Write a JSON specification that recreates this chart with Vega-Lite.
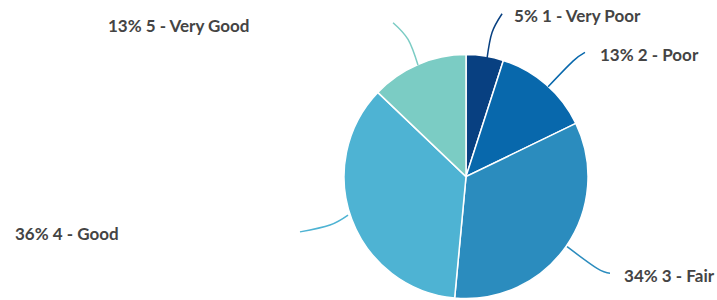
{
  "$schema": "https://vega.github.io/schema/vega-lite/v6.json",
  "width": 717,
  "height": 300,
  "padding": 0,
  "autosize": {"type": "fit", "contains": "padding"},
  "background": "white",
  "config": {"view": {"stroke": null}},
  "datasets": {
    "slices": [
      {"cat": "1 - Very Poor", "pct": 5},
      {"cat": "2 - Poor", "pct": 13},
      {"cat": "3 - Fair", "pct": 34},
      {"cat": "4 - Good", "pct": 36},
      {"cat": "5 - Very Good", "pct": 13}
    ],
    "leaders": [
      {"cat": "1 - Very Poor", "i": 0, "x": 0.174, "y": 0.992},
      {"cat": "1 - Very Poor", "i": 1, "x": 0.215, "y": 1.207},
      {"cat": "1 - Very Poor", "i": 2, "x": 0.298, "y": 1.364},
      {"cat": "2 - Poor", "i": 0, "x": 0.678, "y": 0.752},
      {"cat": "2 - Poor", "i": 1, "x": 0.884, "y": 0.967},
      {"cat": "2 - Poor", "i": 2, "x": 0.983, "y": 1.041},
      {"cat": "3 - Fair", "i": 0, "x": 0.835, "y": -0.587},
      {"cat": "3 - Fair", "i": 1, "x": 1.083, "y": -0.769},
      {"cat": "3 - Fair", "i": 2, "x": 1.190, "y": -0.810},
      {"cat": "4 - Good", "i": 0, "x": -1.372, "y": -0.463},
      {"cat": "4 - Good", "i": 1, "x": -1.124, "y": -0.405},
      {"cat": "4 - Good", "i": 2, "x": -0.975, "y": -0.322},
      {"cat": "5 - Very Good", "i": 0, "x": -0.603, "y": 1.289},
      {"cat": "5 - Very Good", "i": 1, "x": -0.479, "y": 1.149},
      {"cat": "5 - Very Good", "i": 2, "x": -0.397, "y": 0.934}
    ],
    "labels": [
      {"cat": "1 - Very Poor", "label": "5% 1 - Very Poor", "x": 0.397, "y": 1.298},
      {"cat": "2 - Poor", "label": "13% 2 - Poor", "x": 1.107, "y": 0.967},
      {"cat": "3 - Fair", "label": "34% 3 - Fair", "x": 1.306, "y": -0.884},
      {"cat": "4 - Good", "label": "36% 4 - Good", "x": -3.727, "y": -0.529},
      {"cat": "5 - Very Good", "label": "13% 5 - Very Good", "x": -2.959, "y": 1.215}
    ]
  },
  "layer": [
    {
      "data": {"name": "slices"},
      "mark": {"type": "arc", "outerRadius": 122, "stroke": "white", "strokeWidth": 1.5},
      "encoding": {
        "theta": {"field": "pct", "type": "quantitative", "stack": true},
        "order": {"field": "cat", "type": "ordinal", "sort": "ascending"},
        "color": {
          "field": "cat", "type": "nominal", "legend": null,
          "scale": {
            "domain": ["1 - Very Poor", "2 - Poor", "3 - Fair", "4 - Good", "5 - Very Good"],
            "range": ["#084081", "#0868ac", "#2b8cbe", "#4eb3d3", "#7bccc4"]
          }
        },
        "x": {"datum": 0, "type": "quantitative", "scale": {"domain": [-3.851, 2.074], "nice": false, "zero": false}, "axis": null},
        "y": {"datum": 0, "type": "quantitative", "scale": {"domain": [-1.0, 1.479], "nice": false, "zero": false}, "axis": null}
      }
    },
    {
      "data": {"name": "leaders"},
      "mark": {"type": "line", "interpolate": "natural", "strokeWidth": 1.5},
      "encoding": {
        "x": {"field": "x", "type": "quantitative"},
        "y": {"field": "y", "type": "quantitative"},
        "detail": {"field": "cat"},
        "order": {"field": "i", "type": "quantitative"},
        "color": {"field": "cat", "type": "nominal", "legend": null}
      }
    },
    {
      "data": {"name": "labels"},
      "mark": {"type": "text", "align": "left", "baseline": "alphabetic", "font": "Lato", "fontWeight": "bold", "fontSize": 17, "fill": "#444444"},
      "encoding": {
        "x": {"field": "x", "type": "quantitative"},
        "y": {"field": "y", "type": "quantitative"},
        "text": {"field": "label"}
      }
    }
  ]
}
